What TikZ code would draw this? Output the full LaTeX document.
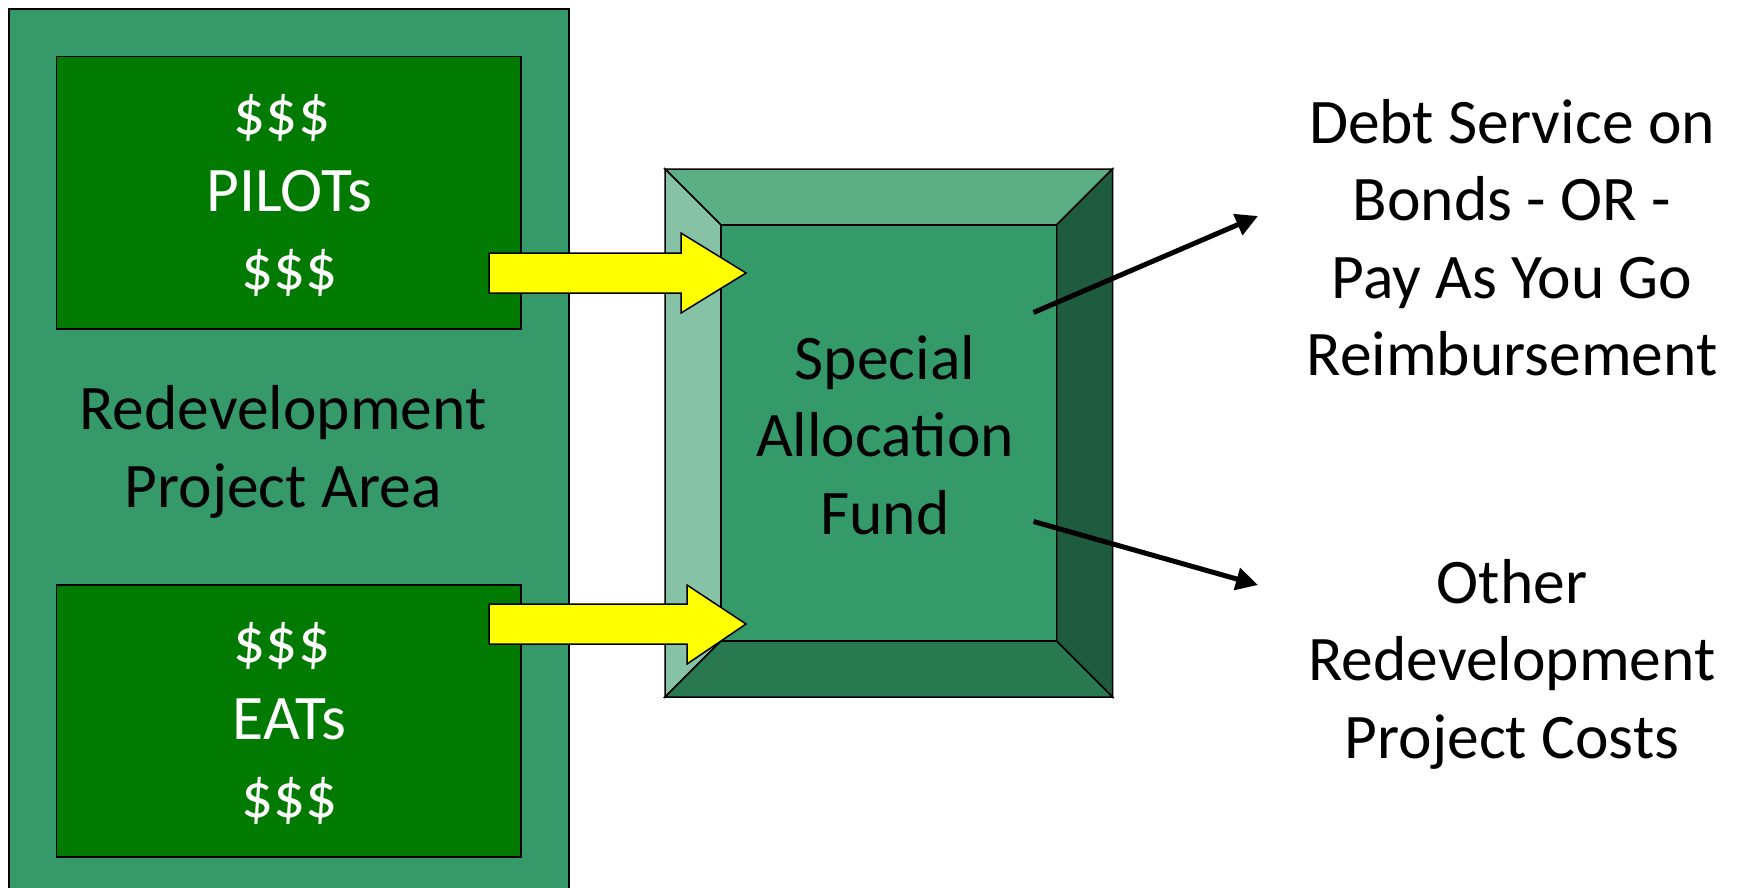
\documentclass[tikz,border=0pt]{standalone}
\usepackage{fontspec}
\setmainfont{Carlito}
\usetikzlibrary{arrows.meta}
\definecolor{areagreen}{HTML}{36996A}
\definecolor{boxgreen}{HTML}{007A00}
\definecolor{bevtop}{HTML}{5CAE85}
\definecolor{bevleft}{HTML}{86C3A6}
\definecolor{bevright}{HTML}{1F5C3F}
\definecolor{bevbottom}{HTML}{2A7A51}
\definecolor{face}{HTML}{349A69}
\definecolor{arrowyellow}{HTML}{FFFF00}
\tikzset{
  outl/.style={draw=black, line width=1.5pt, line join=miter},
  bigtext/.style={font=\fontsize{63.5pt}{77.5pt}\selectfont, align=center, inner sep=0pt},
  blockarrow/.style={fill=arrowyellow, draw=black, line width=1.5pt},
  flowline/.style={line width=5pt, -{Triangle[length=22pt,width=22pt]}},
}
\begin{document}
\begin{tikzpicture}[x=1pt,y=-1pt]
\useasboundingbox (0,0) rectangle (1737,887);
\clip (0,0) rectangle (1737,887);
\fill[white] (0,0) rectangle (1737,887);
% left project area
\draw[outl, fill=areagreen] (9,9) rectangle (569,900);
\draw[outl, fill=boxgreen] (56.5,56.5) rectangle (521,329);
\draw[outl, fill=boxgreen] (56.5,585) rectangle (521,857);
\node[bigtext, text=white] (pilots) at (289.5,195) {\$\$\$\hspace*{15pt}\\PILOTs\hspace*{15pt}\\\$\$\$};
\node[bigtext] (area) at (283,452) {Redevelopment\\Project Area};
\node[bigtext, text=white] (eats) at (289.5,723) {\$\$\$\hspace*{15pt}\\EATs\\\$\$\$};
% bevel box
\draw[outl, fill=bevtop] (665,169) -- (1112.5,169) -- (1056.5,225) -- (721,225) -- cycle;
\draw[outl, fill=bevleft] (665,169) -- (721,225) -- (721,641) -- (665,697) -- cycle;
\draw[outl, fill=bevright] (1112.5,169) -- (1112.5,697) -- (1056.5,641) -- (1056.5,225) -- cycle;
\draw[outl, fill=bevbottom] (665,697) -- (721,641) -- (1056.5,641) -- (1112.5,697) -- cycle;
\draw[outl, fill=face] (721,225) rectangle (1056.5,641);
\node[bigtext] (fund) at (885,435) {Special\\Allocation\\Fund};
% yellow arrows
\draw[blockarrow] (489,253) -- (681,253) -- (681,233) -- (746,273) -- (681,313) -- (681,293) -- (489,293) -- cycle;
\draw[blockarrow] (489,604) -- (687,604) -- (687,585) -- (746,624) -- (687,664) -- (687,644) -- (489,644) -- cycle;
% right texts
\node[bigtext] (debt) at (1512,237.5) {Debt Service on\\Bonds - OR -\\Pay As You Go\\Reimbursement};
\node[bigtext] (other) at (1512,664) {Other\\Redevelopment\\Project Costs};
% flow lines
\coordinate (s1) at (1033.5,312.5);
\coordinate (e1) at (1258,216);
\coordinate (s2) at (1033.5,521.5);
\coordinate (e2) at (1258,585);
\draw[flowline] (s1) -- (e1);
\draw[flowline] (s2) -- (e2);
\end{tikzpicture}
\end{document}
